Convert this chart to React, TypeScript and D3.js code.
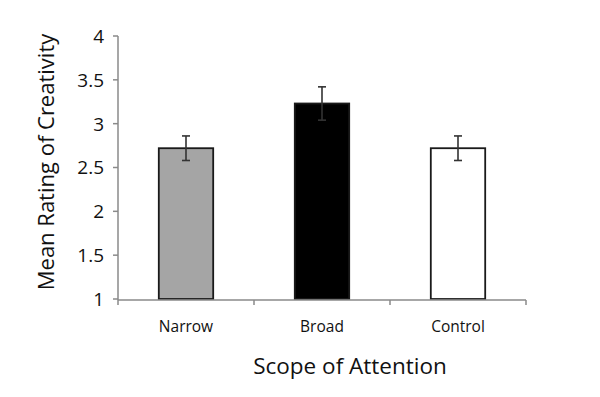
import { scaleBand, scaleLinear } from 'd3'

const categories = ['Narrow', 'Broad', 'Control']
const means = [2.72, 3.23, 2.72]
const errors = [0.14, 0.19, 0.14]
const fills = ['#a5a5a5', '#000000', '#ffffff']
const yTicks = [1, 1.5, 2, 2.5, 3, 3.5, 4]

const W = 600
const H = 397
const left = 118
const right = 526
const top = 36
const bottom = 299

const FONT = '"Open Sans", "Liberation Sans", sans-serif'

export default function App() {
  const x = scaleBand<string>().domain(categories).range([left, right]).paddingInner(0.6).paddingOuter(0.3)
  const y = scaleLinear().domain([1, 4]).range([bottom, top])
  const step = (right - left) / categories.length
  const axisColor = '#8a8a8a'
  const textColor = '#111'

  return (
    <svg width={W} height={H} style={{ position: 'absolute', left: 0, top: 0, background: '#fff' }}>
      {/* bars */}
      {categories.map((c, i) => (
        <rect
          key={c}
          x={x(c)}
          y={y(means[i])}
          width={x.bandwidth()}
          height={y(1) - y(means[i])}
          fill={fills[i]}
          stroke="#1a1a1a"
          strokeWidth={1.8}
        />
      ))}
      {/* error bars */}
      {categories.map((c, i) => {
        const cx = (x(c) ?? 0) + x.bandwidth() / 2
        const hi = y(means[i] + errors[i])
        const lo = y(means[i] - errors[i])
        return (
          <g key={c} stroke="#333" strokeWidth={1.6}>
            <line x1={cx} x2={cx} y1={hi} y2={lo} />
            <line x1={cx - 4} x2={cx + 4} y1={hi} y2={hi} />
            <line x1={cx - 4} x2={cx + 4} y1={lo} y2={lo} />
          </g>
        )
      })}
      {/* y axis */}
      <line x1={left} x2={left} y1={top} y2={bottom + 1} stroke={axisColor} strokeWidth={1.5} />
      {yTicks.map((t) => (
        <g key={t}>
          <line x1={left - 5} x2={left} y1={y(t)} y2={y(t)} stroke={axisColor} strokeWidth={1.5} />
          <text
            x={left - 14}
            y={y(t)}
            dy="0.36em"
            textAnchor="end"
            fontFamily={FONT}
            fontSize={19}
            fill={textColor}
          >
            {t}
          </text>
        </g>
      ))}
      {/* x axis */}
      <line x1={left} x2={right} y1={bottom + 1} y2={bottom + 1} stroke={axisColor} strokeWidth={1.5} />
      {[0, 1, 2, 3].map((k) => (
        <line
          key={k}
          x1={left + k * step}
          x2={left + k * step}
          y1={bottom + 1}
          y2={bottom + 6}
          stroke={axisColor}
          strokeWidth={1.5}
        />
      ))}
      {categories.map((c) => (
        <text
          key={c}
          x={(x(c) ?? 0) + x.bandwidth() / 2}
          y={332}
          textAnchor="middle"
          fontFamily={FONT}
          fontSize={15.5}
          fill={textColor}
        >
          {c}
        </text>
      ))}
      <text x={(left + right) / 2 + 28} y={374} textAnchor="middle" fontFamily={FONT} fontSize={22.5} fill={textColor}>
        Scope of Attention
      </text>
      <text
        transform={`translate(54, 162) rotate(-90)`}
        textAnchor="middle"
        fontFamily={FONT}
        fontSize={22}
        fill={textColor}
      >
        Mean Rating of Creativity
      </text>
    </svg>
  )
}
